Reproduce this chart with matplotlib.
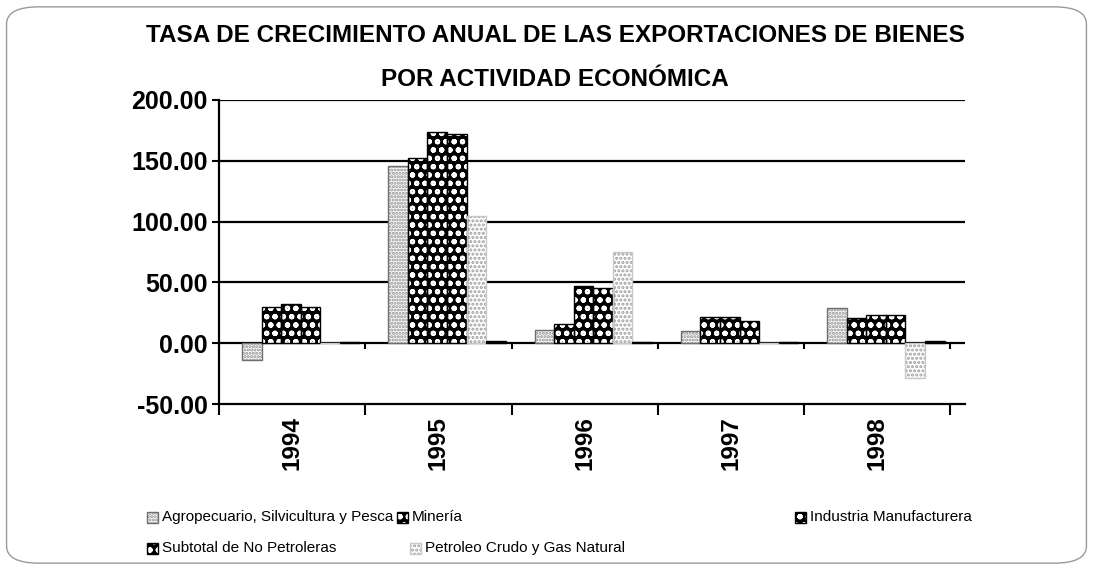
import numpy as np
import matplotlib.pyplot as plt
from matplotlib.patches import Rectangle, FancyBboxPatch

plt.rcParams['hatch.linewidth'] = 1.5
arial = ['Liberation Sans', 'DejaVu Sans']

# datos
anios = ['1994', '1995', '1996', '1997', '1998']
agropecuario = [-14.0, 146.0, 11.0, 10.0, 29.0]
mineria = [29.5, 152.5, 16.0, 21.5, 21.0]
manufacturera = [32.0, 174.0, 47.0, 21.5, 23.0]
subtotal_no_petroleras = [29.5, 172.0, 45.5, 18.5, 23.0]
petroleo_gas = [0.5, 105.0, 75.0, 0.5, -29.0]
serie_sin_rotulo = [1.0, 1.5, 1.0, 1.0, 1.5]

nombres = ['Agropecuario, Silvicultura y Pesca', 'Minería', 'Industria Manufacturera',
           'Subtotal de No Petroleras', 'Petroleo Crudo y Gas Natural']
yticks = [-50, 0, 50, 100, 150, 200]

series = [agropecuario, mineria, manufacturera, subtotal_no_petroleras, petroleo_gas, serie_sin_rotulo]
# (relleno, color de trama, trama, borde)
estilos = [
    ('white', '#8c8c8c', '.....', '#6e6e6e'),
    ('black', 'white', 'oo', 'black'),
    ('black', 'white', 'oo', 'black'),
    ('black', 'white', 'oo', 'black'),
    ('white', '#a0a0a0', '....', '#c8c8c8'),
    ('black', 'black', None, 'black'),
]

fig = plt.figure(figsize=(10.93, 5.70), dpi=100)
ax = fig.add_axes([0.2004, 0.2912, 0.6826, 0.5334])

x = np.arange(len(anios))
bw = 0.1336
for i, (vals, (fc, hc, hatch, ec)) in enumerate(zip(series, estilos)):
    pos = x - 0.2757 + bw * i
    ax.bar(pos, vals, bw, color=fc, edgecolor=hc, hatch=hatch, linewidth=0, zorder=3)
    ax.bar(pos, vals, bw, fill=False, edgecolor=ec, linewidth=1.0, zorder=4)

ax.set_ylim(-50, 200)
ax.set_xlim(-0.5, 4.6)
ax.set_yticks(yticks)
ax.set_yticklabels([f'{v:.2f}' for v in yticks], fontsize=18, fontweight='bold', family=arial)
ax.tick_params(axis='y', direction='out', length=5, width=1.5, pad=3)
ax.set_xticks(x)
ax.set_xticklabels(anios, rotation=90, fontsize=17.5, fontweight='bold', family=arial)
ax.tick_params(axis='x', which='major', length=0, pad=9)
ax.set_xticks(np.arange(len(anios) + 1) - 0.5, minor=True)
ax.tick_params(axis='x', which='minor', direction='out', length=8, width=1.5)

for v in yticks[1:]:
    ax.axhline(v, color='black', linewidth=1.6, zorder=2)
ax.vlines(np.arange(len(anios) + 1) - 0.5, -5, 0, color='black', linewidth=1.5, zorder=2)

for s in ['top', 'right']:
    ax.spines[s].set_visible(False)
ax.spines['left'].set_linewidth(1.6)
ax.spines['bottom'].set_linewidth(1.6)

fig.text(0.508, 0.937, 'TASA DE CRECIMIENTO ANUAL DE LAS EXPORTACIONES DE BIENES',
         ha='center', va='center', fontsize=17.5, fontweight='bold', family=arial)
fig.text(0.508, 0.86, 'POR ACTIVIDAD ECONÓMICA',
         ha='center', va='center', fontsize=17.5, fontweight='bold', family=arial)

# leyenda
leyenda = [(0, 147, 517), (1, 397, 517), (2, 795, 517), (3, 147, 548), (4, 410, 548)]
for idx, px, py in leyenda:
    fc, hc, hatch, ec = estilos[idx]
    w, h = 11 / 1093, 11 / 570
    x0, y0 = px / 1093, 1 - py / 570 - h / 2
    fig.add_artist(Rectangle((x0, y0), w, h, transform=fig.transFigure,
                             facecolor=fc, edgecolor=hc, hatch=hatch, linewidth=0))
    fig.add_artist(Rectangle((x0, y0), w, h, transform=fig.transFigure,
                             fill=False, edgecolor=ec, linewidth=1.0))
    fig.text(x0 + w + 4 / 1093, 1 - py / 570, nombres[idx], ha='left', va='center',
             fontsize=11, family=arial)

fig.add_artist(FancyBboxPatch((0.006, 0.012), 0.988, 0.976, boxstyle='round,pad=0,rounding_size=0.03',
                              transform=fig.transFigure, fill=False, edgecolor='#9a9a9a', linewidth=1.0))

fig.savefig('out.png', dpi=100)
